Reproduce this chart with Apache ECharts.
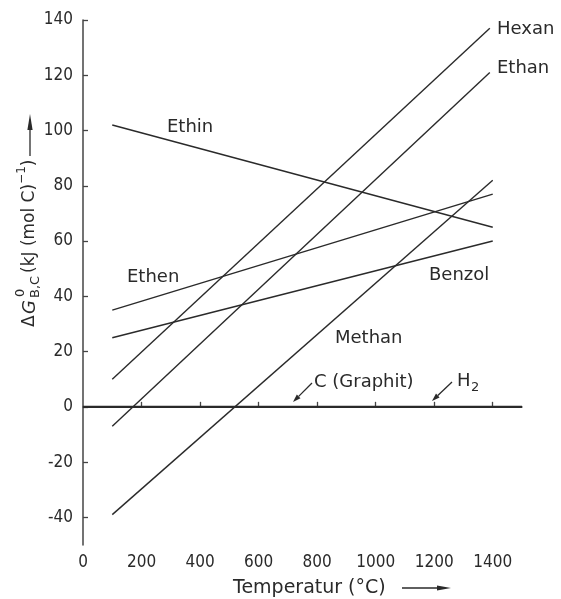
<!DOCTYPE html>
<html>
<head>
<meta charset="utf-8">
<script src="https://cdn.jsdelivr.net/npm/echarts@6/dist/echarts.min.js"></script>
<style>
  html, body { margin: 0; padding: 0; background: #fff; }
  #chart { width: 561px; height: 599px; }
</style>
</head>
<body>
<div id="chart"></div>
<script>
// Standard Gibbs energy of formation per mol C versus temperature
const xTicks = [0, 200, 400, 600, 800, 1000, 1200, 1400];
const yTicks = [-40, -20, 0, 20, 40, 60, 80, 100, 120, 140];

const hexanT  = [100, 1390];
const hexanG  = [10, 137];
const ethanT  = [100, 1390];
const ethanG  = [-7, 121];
const methanT = [100, 1400];
const methanG = [-39, 82];
const ethinT  = [100, 1400];
const ethinG  = [102, 65];
const ethenT  = [100, 1400];
const ethenG  = [35, 77];
const benzolT = [100, 1400];
const benzolG = [25, 60];
const elemT   = [0, 1500];   // C (Graphit) and H2: zero by definition
const elemG   = [0, 0];

const INK = '#2a2a2a';
const NUM_FONT = '"DejaVu Sans Condensed", "DejaVu Sans", sans-serif';
const TXT_FONT = '"DejaVu Sans", sans-serif';

const measureCtx = document.createElement('canvas').getContext('2d');
function textWidth(text, font) { measureCtx.font = font; return measureCtx.measureText(text).width; }

function pairs(xs, ys) { return xs.map((x, i) => [x, ys[i]]); }

function lineSeries(name, xs, ys, width) {
  return {
    name, type: 'line', data: pairs(xs, ys),
    symbol: 'none', silent: true,
    lineStyle: { color: INK, width: width || 1.4 }
  };
}

function arrow(x1, y1, x2, y2, headLen, headHalf) {
  const dx = x2 - x1, dy = y2 - y1, L = Math.hypot(dx, dy);
  const ux = dx / L, uy = dy / L;
  const bx = x2 - ux * headLen, by = y2 - uy * headLen;
  return [
    { type: 'line', shape: { x1, y1, x2: bx, y2: by }, style: { stroke: INK, lineWidth: 1.3 } },
    { type: 'polygon', shape: { points: [[x2, y2], [bx - uy * headHalf, by + ux * headHalf], [bx + uy * headHalf, by - ux * headHalf]] }, style: { fill: INK } }
  ];
}

function label(text, x, y, size, font) {
  return { type: 'text', x, y, style: { text, font: font || ((size || 18) + 'px ' + TXT_FONT), fill: INK, textVerticalAlign: 'middle' } };
}

// y axis title pieces laid out along the rotated baseline
const F_MAIN = '17px ' + TXT_FONT;
const F_SMALL = '13px ' + TXT_FONT;
const F_SUP = '12px ' + TXT_FONT;
const unitText = '(kJ (mol C)';
const unitW = textWidth(unitText, F_MAIN);
const supW = textWidth('−1', F_SUP);
const unitX = 54;

const chart = echarts.init(document.getElementById('chart'), null, { renderer: 'canvas' });

chart.setOption({
  backgroundColor: '#fff',
  animation: false,
  grid: { left: 83, right: 39, top: 20, bottom: 54 },
  xAxis: {
    type: 'value', min: 0, max: 1500,
    axisLine: { show: true, lineStyle: { color: '#444', width: 1.5 } },
    axisTick: { show: true, inside: true, length: 5, customValues: xTicks.slice(1), lineStyle: { color: '#444', width: 1.3 } },
    axisLabel: { customValues: xTicks, formatter: v => String(v), color: INK, fontSize: 17, fontFamily: NUM_FONT, margin: 9 },
    splitLine: { show: false }
  },
  yAxis: {
    type: 'value', min: -50, max: 140,
    axisLine: { show: true, lineStyle: { color: '#444', width: 1.5 } },
    axisTick: { show: true, inside: true, length: 5, customValues: yTicks, lineStyle: { color: '#444', width: 1.3 } },
    axisLabel: { customValues: yTicks, formatter: v => String(v), color: INK, fontSize: 17, fontFamily: NUM_FONT, margin: 10 },
    splitLine: { show: false }
  },
  series: [
    lineSeries('Hexan', hexanT, hexanG),
    lineSeries('Ethan', ethanT, ethanG),
    lineSeries('Methan', methanT, methanG),
    lineSeries('Ethin', ethinT, ethinG),
    lineSeries('Ethen', ethenT, ethenG),
    lineSeries('Benzol', benzolT, benzolG),
    lineSeries('C (Graphit), H2', elemT, elemG, 2.4)
  ],
  graphic: [
    // curve names
    label('Ethin', 167, 127),
    label('Ethen', 127, 277),
    label('Hexan', 497, 29),
    label('Ethan', 497, 68),
    label('Benzol', 429, 275),
    label('Methan', 335, 338),
    label('C (Graphit)', 314, 382),
    label('H', 457, 381),
    label('2', 471, 388, 13),
    ...arrow(312, 383, 293, 402, 8, 2.6),
    ...arrow(452, 382, 432, 401, 8, 2.6),

    // x axis title
    label('Temperatur (°C)', 233, 588, 19),
    ...arrow(402, 588, 451, 588, 14, 2.6),

    // y axis title, drawn bottom to top
    {
      type: 'group', x: 30, y: 327, rotation: Math.PI / 2,
      children: [
        { type: 'text', x: 0, y: 0, style: { text: 'Δ', font: F_MAIN, fill: INK, textVerticalAlign: 'middle' } },
        { type: 'text', x: 13, y: 0, style: { text: 'G', font: 'italic 18px ' + TXT_FONT, fill: INK, textVerticalAlign: 'middle' } },
        { type: 'text', x: 30, y: -9, style: { text: '0', font: F_SMALL, fill: INK, textVerticalAlign: 'middle' } },
        { type: 'text', x: 29, y: 6, style: { text: 'B,C', font: F_SMALL, fill: INK, textVerticalAlign: 'middle' } },
        { type: 'text', x: unitX, y: 0, style: { text: unitText, font: F_MAIN, fill: INK, textVerticalAlign: 'middle' } },
        { type: 'text', x: unitX + unitW, y: -8, style: { text: '−1', font: F_SUP, fill: INK, textVerticalAlign: 'middle' } },
        { type: 'text', x: unitX + unitW + supW, y: 0, style: { text: ')', font: F_MAIN, fill: INK, textVerticalAlign: 'middle' } }
      ]
    },
    ...arrow(30, 156, 30, 114, 16, 2.6)
  ]
});
</script>
</body>
</html>
